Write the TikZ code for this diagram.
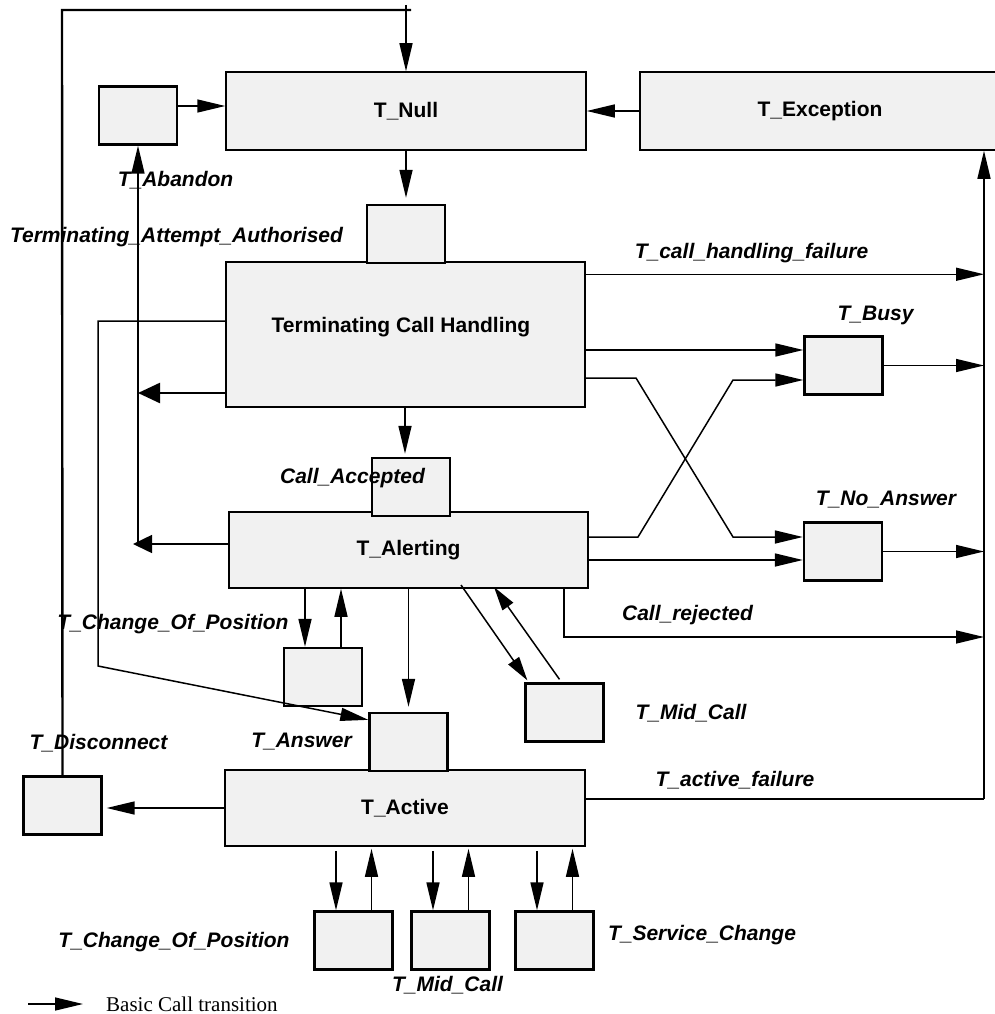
\documentclass[tikz,border=0pt]{standalone}
\usepackage{fontspec}
\setmainfont{Liberation Serif}
\newfontfamily\labfont{Liberation Sans}
\usetikzlibrary{arrows.meta}
\definecolor{boxfill}{gray}{0.945}
\begin{document}
\begin{tikzpicture}[x=1pt,y=-1pt,
  state/.style={draw, line width=1.5pt, fill=boxfill, inner sep=0pt,
    font=\labfont\bfseries\fontsize{21}{24}\selectfont},
  ptbox/.style={draw, line width=2.3pt, fill=boxfill, inner sep=0pt,
    minimum width=78pt, minimum height=58pt},
  lab/.style={inner sep=0pt, font=\labfont\bfseries\itshape\fontsize{21}{24}\selectfont},
  stext/.style={inner sep=0pt, font=\labfont\bfseries\fontsize{21}{24}\selectfont},
  ln/.style={line width=1.5pt},
  thickln/.style={line width=2.4pt},
  arr/.style={line width=1.5pt, -{Triangle[length=28pt,width=13pt]}},
  arrshort/.style={line width=1.5pt, -{Triangle[length=19pt,width=18pt]}},
  arrthick/.style={line width=2.4pt, -{Triangle[length=22pt,width=20pt]}},
  arrdiag/.style={line width=1.5pt, -{Triangle[length=24pt,width=13pt]}},
]
\useasboundingbox (0,0) rectangle (995,1014);

% rails
\coordinate (railL) at (138,0);
\coordinate (railR) at (984,0);
\coordinate (bendA) at (98,666);

% states
\node[state, minimum width=360pt, minimum height=78pt] (Null) at (406,111) {T\_Null};
\node[state, minimum width=360pt, minimum height=78pt] (Exc) at (820,111) {T\_Exception};
\node[state, minimum width=359pt, minimum height=145pt] (TCH) at (405.5,334.5) {};
\node[stext] (TCHtext) at (401,327) {Terminating Call Handling};
\node[state, minimum width=359pt, minimum height=76pt] (Alert) at (408.5,550) {T\_Alerting};
\node[state, minimum width=360pt, minimum height=76pt] (Active) at (405,808) {T\_Active};

% point boxes
\node[ptbox] (Aband) at (138,115.5) {};
\node[ptbox] (TAA) at (406,234) {};
\node[ptbox] (CallAcc) at (411,487) {};
\node[ptbox] (Busy) at (843.5,365.5) {};
\node[ptbox] (NoAns) at (843,551.5) {};
\node[ptbox] (CoP1) at (323,677) {};
\node[ptbox] (Answer) at (408.5,742) {};
\node[ptbox] (Mid1) at (564.5,712.5) {};
\node[ptbox] (Disc) at (62.5,805.5) {};
\node[ptbox] (CoP2) at (353.5,940.5) {};
\node[ptbox] (Mid2) at (450.5,940.5) {};
\node[ptbox] (Serv) at (554.5,940.5) {};

% outer loop T_Disconnect -> T_Null
\coordinate (topL) at (62,10);
\coordinate (topR) at (411,10);
\coordinate (topA) at (406,5);
\draw[thickln] (Disc.north) -- (topL) -- (topR);
\draw[arr] (topA) -- (Null.north);

% top row
\draw[arr] ([yshift=9.5pt]Aband.east) -- ([yshift=9.5pt]Aband.east -| Null.west);
\draw[arr] (Exc.west) -- (Null.east);
\draw[arr] (Null.south) -- ([yshift=6pt]TAA.north);

% T_Abandon rail
\draw[arrshort] ([yshift=6pt]Alert.west) -- ([yshift=6pt,xshift=-5pt]Alert.west -| railL);
\draw[arr] ([yshift=6pt]Alert.west -| railL) -- (Aband.south);
\draw[arrthick] ([yshift=-58.5pt]TCH.west) -- ([yshift=-58.5pt]TCH.west -| railL);

% TCH -> T_Answer long path
\draw[arr] ([yshift=13.5pt]TCH.west) -| (bendA) -- ([yshift=-8pt]Answer.north west);

% TCH -> Call_Accepted
\draw[arr] (TCH.south -| 405,0) -- ([yshift=3pt]CallAcc.north -| 405,0);

% right side
\draw[arr] ([yshift=-13pt]TCH.north east) -- ([yshift=-13pt]TCH.north east -| railR);
\draw[arr] ([yshift=-15.5pt]TCH.east) -- ([yshift=-15.5pt]TCH.east -| Busy.west);
\coordinate (x1a) at (636,378);
\coordinate (x1b) at (733,537);
\draw[arr] ([yshift=-43.5pt]TCH.east) -- (x1a) -- (x1b) -- (x1b -| NoAns.west);
\coordinate (x2a) at (638,537);
\coordinate (x2b) at (733,380);
\draw[arr] ([yshift=13pt]Alert.east) -- (x2a) -- (x2b) -- (x2b -| Busy.west);
\draw[arr] ([yshift=-10pt]Alert.east) -- ([yshift=-10pt]Alert.east -| NoAns.west);
\draw[arr] (Busy.east) -- (Busy.east -| railR);
\draw[arr] (NoAns.east) -- (NoAns.east -| railR);
\coordinate (crj) at (564,637);
\draw[arr] (crj |- Alert.south) -- (crj) -- (crj -| railR);
\draw[thickln] ([yshift=9pt]Active.east) -- ([yshift=9pt]Active.east -| railR);
\draw[arr] ([yshift=9pt]Active.east -| railR) -- (railR |- Exc.south);

% T_Alerting lower transitions
\draw[arr] ([xshift=-18pt]CoP1.north |- Alert.south) -- ([xshift=-18pt]CoP1.north);
\draw[arr] ([xshift=18pt]CoP1.north) -- ([xshift=18pt]CoP1.north |- Alert.south);
\draw[arr] (Alert.south -| Answer.north) -- ([yshift=5pt]Answer.north);
\coordinate (m1a) at (461,585);
\coordinate (m1b) at (494,587);
\draw[arrdiag] (m1a) -- ([xshift=3pt,yshift=2pt]Mid1.north west);
\draw[arrdiag] ([xshift=-5pt,yshift=3pt]Mid1.north) -- (m1b);

% T_Active transitions
\draw[arr] (Active.west) -- ([xshift=4pt]Active.west -| Disc.east);
\foreach \b in {CoP2,Mid2,Serv}{
  \draw[arr] ([xshift=-17.5pt,yshift=-4pt]\b.north |- Active.south) -- ([xshift=-17.5pt]\b.north);
  \draw[arr] ([xshift=18pt]\b.north) -- ([xshift=18pt,yshift=-2pt]\b.north |- Active.south);
}

% labels
\node[lab] (lAband) at (175.5,180) {T\_Abandon};
\node[lab] (lTAA) at (176.5,237) {Terminating\_Attempt\_Authorised};
\node[lab] (lCHF) at (751.5,253) {T\_call\_handling\_failure};
\node[lab] (lBusy) at (875.5,315) {T\_Busy};
\node[lab] (lNoAns) at (886,500) {T\_No\_Answer};
\node[lab] (lCallAcc) at (352.5,478) {Call\_Accepted};
\node[lab] (lRej) at (687.5,615) {Call\_rejected};
\node[lab] (lCoP1) at (173,624) {T\_Change\_Of\_Position};
\node[lab] (lMid1) at (691,713) {T\_Mid\_Call};
\node[lab] (lDisc) at (98.5,743) {T\_Disconnect};
\node[lab] (lAns) at (301.5,742) {T\_Answer};
\node[lab] (lAF) at (735,780) {T\_active\_failure};
\node[lab] (lCoP2) at (174,942) {T\_Change\_Of\_Position};
\node[lab] (lMid2) at (447.5,985) {T\_Mid\_Call};
\node[lab] (lServ) at (702,935) {T\_Service\_Change};

% legend
\coordinate (lgA) at (28,1004);
\coordinate (lgB) at (83,1004);
\draw[arr] (lgA) -- (lgB);
\node[anchor=west, inner sep=0pt, font=\fontsize{21}{24}\selectfont] (lgT) at (106,1004) {Basic Call transition};
\end{tikzpicture}
\end{document}
